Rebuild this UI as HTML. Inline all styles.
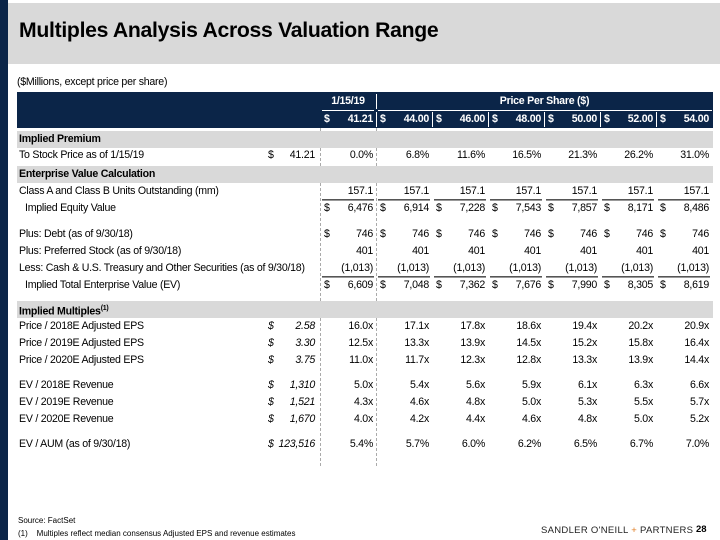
<!DOCTYPE html>
<html><head><meta charset="utf-8"><style>
body{margin:0;width:720px;height:540px;position:relative;overflow:hidden;background:#fff;font-family:"Liberation Sans",sans-serif;color:#000}
div{position:absolute;box-sizing:border-box;white-space:nowrap}
.t{font-size:10.6px;letter-spacing:-0.25px;line-height:16px}
.b{font-weight:bold}
.gray{background:#d9d9d9}
.r{text-align:right}
</style></head><body>
<div style="left:0;top:0;width:8px;height:540px;background:#0b2548"></div>
<div class="gray" style="left:8px;top:3px;width:712px;height:61px"></div>
<div style="left:19px;top:19px;font-size:21.2px;font-weight:bold;letter-spacing:-0.3px;color:#000">Multiples Analysis Across Valuation Range</div>
<div class="t" style="left:17px;top:74px">($Millions, except price per share)</div>
<div style="left:17px;top:92px;width:696px;height:36px;background:#0b2548"></div>
<div id="tbl"></div>
<div style="left:18px;top:516px;font-size:8px">Source: FactSet</div>
<div style="left:18px;top:529px;font-size:8px">(1)&nbsp;&nbsp;&nbsp; Multiples reflect median consensus Adjusted EPS and revenue estimates</div>
<div style="left:541px;top:525px;font-size:9.5px;letter-spacing:0.3px;color:#222">SANDLER O'NEILL <span style="color:#e07b1f">+</span> PARTNERS</div>
<div style="left:696px;top:524px;font-size:9.5px;font-weight:bold">28</div>
<script>
const prices=["44.00","46.00","48.00","50.00","52.00","54.00"];
const basePrice="41.21";
const premium=["0.0%","6.8%","11.6%","16.5%","21.3%","26.2%","31.0%"];
const units=["157.1","157.1","157.1","157.1","157.1","157.1","157.1"];
const equity=["6,476","6,914","7,228","7,543","7,857","8,171","8,486"];
const debt=["746","746","746","746","746","746","746"];
const pref=["401","401","401","401","401","401","401"];
const cash=["(1,013)","(1,013)","(1,013)","(1,013)","(1,013)","(1,013)","(1,013)"];
const tev=["6,609","7,048","7,362","7,676","7,990","8,305","8,619"];
const eps18=["16.0x","17.1x","17.8x","18.6x","19.4x","20.2x","20.9x"];
const eps19=["12.5x","13.3x","13.9x","14.5x","15.2x","15.8x","16.4x"];
const eps20=["11.0x","11.7x","12.3x","12.8x","13.3x","13.9x","14.4x"];
const rev18=["5.0x","5.4x","5.6x","5.9x","6.1x","6.3x","6.6x"];
const rev19=["4.3x","4.6x","4.8x","5.0x","5.3x","5.5x","5.7x"];
const rev20=["4.0x","4.2x","4.4x","4.6x","4.8x","5.0x","5.2x"];
const aum=["5.4%","5.7%","6.0%","6.2%","6.5%","6.7%","7.0%"];
const T=document.getElementById('tbl');
const colL=[320,376,432,488,544,600,656], colR=[376,432,488,544,600,656,712];
function mk(name,style,html,cls){const d=document.createElement('div');


d.className=cls||'t';d.style.cssText=style;d.innerHTML=html;T.appendChild(d);return d;}
mk('divider-base','left:320px;top:128px;height:338px;border-left:1px dashed #aaa','','');
mk('divider-current','left:376px;top:128px;height:338px;border-left:1px dashed #aaa','','');
mk('header-date','left:320px;top:93px;width:56px;color:#fff;text-align:center','1/15/19','t b');
mk('header-price-per-share','left:376px;top:93px;width:337px;color:#fff;text-align:center','Price Per Share ($)','t b');
mk('header-date-sep','left:376px;top:94px;height:15px;border-left:1px solid #fff','','');
mk('header-rule','left:378px;top:110px;width:334px;border-top:1px solid #fff','','');
mk('header-rule-date','left:322px;top:110px;width:52px;border-top:1px solid #fff','','');
const hp=[basePrice].concat(prices);
for(let i=0;i<7;i++){
 mk('header-price-'+i,'left:'+(colL[i]+4)+'px;top:111px;color:#fff','$','t b');
 mk('header-price-'+i+'-value','left:'+colL[i]+'px;top:111px;width:'+(colR[i]-colL[i]-3)+'px;color:#fff','',"t b r").textContent=hp[i];
 if(i>0) mk('header-sep-'+i,'left:'+colL[i]+'px;top:112px;height:15px;border-left:1px solid #fff','','');
}
function section(name,y,txt){mk(name+'-band','left:17px;top:'+(y-8)+'px;width:696px;height:17px','','gray');
 mk(name,'left:19px;top:'+(y-8)+'px',txt,'t b');}
function row(name,y,label,vals,opts){opts=opts||{};
 mk(name+'-label','left:'+(opts.indent?25:19)+'px;top:'+(y-8)+'px',label);
 if(opts.ref){mk(name+'-ref-dollar','left:268px;top:'+(y-8)+'px;'+(opts.it?'font-style:italic':''),'$');
  mk(name+'-ref','left:258px;top:'+(y-8)+'px;width:57px;'+(opts.it?'font-style:italic':''),opts.ref,'t r');}
 vals.forEach((v,i)=>{
  if(opts.dollar) mk(name+'-dollar-'+i,'left:'+(colL[i]+4)+'px;top:'+(y-8)+'px','$');
  mk(name+'-value-'+i,'left:'+colL[i]+'px;top:'+(y-8)+'px;width:'+(colR[i]-colL[i]-3)+'px',v,'t r');
  if(opts.rule) mk(name+'-rule-'+i,'left:'+(colL[i]+2)+'px;top:'+(y+8)+'px;width:'+(colR[i]-colL[i]-4)+'px;height:2px;border-top:1px solid #555;border-bottom:1px solid #999','','');
 });}
section('implied-premium-header',139,'Implied Premium');
row('premium',155,'To Stock Price as of 1/15/19',premium,{ref:'41.21'});
section('ev-calc-header',174,'Enterprise Value Calculation');
row('units',191,'Class A and Class B Units Outstanding (mm)',units,{rule:1});
row('equity-value',208,'Implied Equity Value',equity,{dollar:1,indent:1});
row('debt',234,'Plus: Debt (as of 9/30/18)',debt,{dollar:1});
row('preferred',251,'Plus: Preferred Stock (as of 9/30/18)',pref);
row('cash',268,'Less: Cash &amp; U.S. Treasury and Other Securities (as of 9/30/18)',cash,{rule:1});
row('tev',285,'Implied Total Enterprise Value (EV)',tev,{dollar:1,indent:1});
section('implied-multiples-header',309,'Implied Multiples<sup style="font-size:7px">(1)</sup>');
row('pe-2018',326,'Price / 2018E Adjusted EPS',eps18,{ref:'2.58',it:1});
row('pe-2019',343,'Price / 2019E Adjusted EPS',eps19,{ref:'3.30',it:1});
row('pe-2020',360,'Price / 2020E Adjusted EPS',eps20,{ref:'3.75',it:1});
row('ev-rev-2018',385,'EV / 2018E Revenue',rev18,{ref:'1,310',it:1});
row('ev-rev-2019',402,'EV / 2019E Revenue',rev19,{ref:'1,521',it:1});
row('ev-rev-2020',419,'EV / 2020E Revenue',rev20,{ref:'1,670',it:1});
row('ev-aum',444,'EV / AUM (as of 9/30/18)',aum,{ref:'123,516',it:1});
</script>
</body></html>
